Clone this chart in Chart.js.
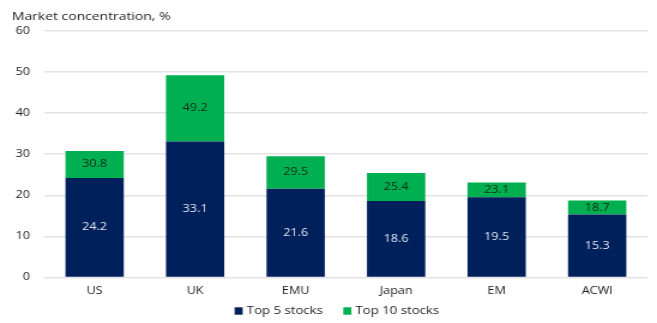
<!DOCTYPE html>
<html>
<head>
<meta charset="utf-8">
<script src="https://cdn.jsdelivr.net/npm/chart.js@4"></script>
<style>
    html, body { margin: 0; padding: 0; background: #fff; overflow: hidden; }
    /* the source picture is stretched sideways, so the canvas is drawn narrower and widened with css */
    #concChart { display: block; width: 657px; height: 323px; }
</style>
</head>
<body>
<canvas id="concChart" width="548" height="323" style="width:657px;height:323px"></canvas>
<script>
const categories = ['US', 'UK', 'EMU', 'Japan', 'EM', 'ACWI'];
const top5 = [24.2, 33.1, 21.6, 18.6, 19.5, 15.3];
const top10 = [30.8, 49.2, 29.5, 25.4, 23.1, 18.7];
const yTicks = [0, 10, 20, 30, 40, 50, 60];
const chartTitle = 'Market concentration, %';

const NAVY = '#00205b';
const GREEN = '#00b050';
const TEXT = '#1c1c1c';
const FONT = '"Open Sans", "Noto Sans", sans-serif';
const FONT_SIZE = 10.5;

// green segment is the gap between top 5 and top 10
const extra = top10.map((v, i) => Math.round((v - top5[i]) * 10) / 10);

const labelPlugin = {
    id: 'barLabels',
    afterDatasetsDraw(chart) {
        const ctx = chart.ctx;
        ctx.save();
        ctx.font = FONT_SIZE + 'px ' + FONT;
        ctx.textAlign = 'center';
        ctx.textBaseline = 'middle';
        chart.getDatasetMeta(0).data.forEach((bar, i) => {
            ctx.fillStyle = '#e2e6f0';
            ctx.fillText(top5[i].toFixed(1), bar.x, (bar.y + bar.base) / 2);
        });
        chart.getDatasetMeta(1).data.forEach((bar, i) => {
            ctx.fillStyle = '#10281a';
            ctx.fillText(top10[i].toFixed(1), bar.x, (bar.y + bar.base) / 2);
        });
        ctx.restore();
    }
};

// title and legend drawn by hand so they sit where the source has them
const framePlugin = {
    id: 'frameText',
    afterDraw(chart) {
        const ctx = chart.ctx;
        ctx.save();
        ctx.textBaseline = 'middle';
        ctx.fillStyle = TEXT;
        ctx.font = '11.6px ' + FONT;
        ctx.fillText(chartTitle, 10, 16.5);

        const items = chart.data.datasets.map((d) => ({ text: d.label, color: d.backgroundColor }));
        const box = 6.7, gap = 3.5, spacing = 17;
        ctx.font = '11px ' + FONT;
        const widths = items.map((it) => box + gap + ctx.measureText(it.text).width);
        const total = widths.reduce((a, b) => a + b, 0) + spacing * (items.length - 1);
        let x = chart.width / 2 + 7 - total / 2;
        const y = 311;
        items.forEach((it, i) => {
            ctx.fillStyle = it.color;
            ctx.fillRect(x, y - 3.7, box, 7.4);
            ctx.fillStyle = TEXT;
            ctx.fillText(it.text, x + box + gap, y);
            x += widths[i] + spacing;
        });
        ctx.restore();
    }
};

new Chart(document.getElementById('concChart').getContext('2d'), {
    type: 'bar',
    data: {
        labels: categories,
        datasets: [
            { label: 'Top 5 stocks', data: top5, backgroundColor: NAVY, borderWidth: 0 },
            { label: 'Top 10 stocks', data: extra, backgroundColor: GREEN, borderWidth: 0 }
        ]
    },
    options: {
        responsive: false,
        animation: false,
        layout: { padding: { left: 1, right: 8, top: 31, bottom: 19 } },
        datasets: { bar: { barPercentage: 0.58, categoryPercentage: 1 } },
        plugins: {
            tooltip: { enabled: false },
            legend: { display: false },
            title: { display: false }
        },
        scales: {
            x: {
                stacked: true,
                grid: { display: false, drawTicks: false },
                border: { display: false },
                ticks: { color: TEXT, font: { family: FONT, size: FONT_SIZE }, padding: 7 }
            },
            y: {
                stacked: true,
                min: 0,
                max: 60,
                afterBuildTicks: (axis) => { axis.ticks = yTicks.map((v) => ({ value: v })); },
                grid: { color: '#e3e3e3', lineWidth: 1.5, drawTicks: false },
                border: { display: false },
                ticks: { color: TEXT, font: { family: FONT, size: FONT_SIZE }, padding: 12 }
            }
        }
    },
    plugins: [labelPlugin, framePlugin]
});
</script>
</body>
</html>
